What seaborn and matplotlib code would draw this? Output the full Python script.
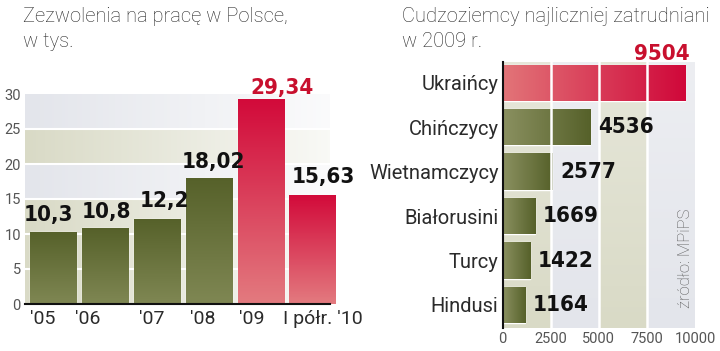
import numpy as np
import pandas as pd
import matplotlib
matplotlib.use("Agg")
import matplotlib.pyplot as plt
import seaborn as sns
from matplotlib.colors import LinearSegmentedColormap

# ---- data ----
years = ["'05", "'06", "'07", "'08", "'09", "I półr. '10"]
permits = [10.3, 10.8, 12.2, 18.02, 29.34, 15.63]
permit_labels = ["10,3", "10,8", "12,2", "18,02", "29,34", "15,63"]
permit_ticks = [0, 5, 10, 15, 20, 25, 30]

nations = ["Ukraińcy", "Chińczycy", "Wietnamczycy", "Białorusini", "Turcy", "Hindusi"]
workers = [9504, 4536, 2577, 1669, 1422, 1164]
worker_ticks = [0, 2500, 5000, 7500, 10000]

title_left = ["Zezwolenia na pracę w Polsce,", "w tys."]
title_right = ["Cudzoziemcy najliczniej zatrudniani", "w 2009 r."]
source = "źródło: MPiPS"

sns.set_theme(style="white")
plt.rcParams['font.family'] = ['Roboto', 'DejaVu Sans']
BOLD = dict(family=['DejaVu Sans'], fontweight="bold", fontstretch="condensed")

OLIVE = "#66702f"
RED = "#d4213f"
BEIGE = "#d9dac6"
GRAYBLUE = "#e3e5eb"
TXT = "#2b2b2b"

# layout nudges (pixels) for labels
lab_dx = [-5, 1, 7, 5, 21, 11]
lab_dy = [7, 6, 8, 6, 1, 8]
tick_shift = [-0.19, -0.33, -0.10, -0.12, -0.17, 0.19]

fig = plt.figure(figsize=(7.2, 3.51), dpi=100)
fig.patch.set_facecolor("white")

def grad_fill(ax, patch, c1, c2, vertical=True):
    x0, y0 = patch.get_x(), patch.get_y()
    w, h = patch.get_width(), patch.get_height()
    cmap = LinearSegmentedColormap.from_list("g", [c1, c2])
    if vertical:
        arr = np.linspace(0, 1, 100).reshape(-1, 1)
    else:
        arr = np.linspace(0, 1, 100).reshape(1, -1)
    im = ax.imshow(arr, cmap=cmap, aspect="auto", origin="lower",
                   extent=[x0, x0 + w, y0, y0 + h], zorder=patch.get_zorder() + 0.1,
                   interpolation="bilinear")
    im.set_clip_path(patch)

# ---------------- left panel ----------------
axL = fig.add_axes([25/720, 1 - 304/351, 305/720, 210/351])
dfL = pd.DataFrame({"year": years, "val": permits})
colsL = [OLIVE]*4 + [RED]*2
sns.barplot(data=dfL, x="year", y="val", hue="year", palette=colsL, legend=False,
            width=0.9, ax=axL, zorder=3, saturation=1)
barsL = list(axL.patches)
axL.set_xlim(-0.54, 5.33)
axL.set_ylim(0, 30)
band_cols = [BEIGE, BEIGE, BEIGE, GRAYBLUE, BEIGE, GRAYBLUE]
for i, c in enumerate(band_cols):
    axL.axhspan(i*5, i*5+5, color=c, zorder=0, lw=0)
fade = np.zeros((2, 200, 4))
fade[..., :3] = 1.0
fade[..., 3] = np.linspace(0.0, 0.85, 200)[None, :]
axL.imshow(fade, extent=[-0.54, 5.33, 0, 30], aspect="auto", zorder=0.5)
for yv in permit_ticks[1:-1]:
    axL.axhline(yv, color="white", lw=1.5, zorder=1)
for i, p in enumerate(barsL):
    if i < 4:
        grad_fill(axL, p, "#7f8753", "#56612a")
    else:
        grad_fill(axL, p, "#e37a7f", "#d20a3a")
for i, p in enumerate(barsL):
    cx = p.get_x() + p.get_width()/2
    axL.annotate(permit_labels[i], (cx, permits[i]), xytext=(lab_dx[i], lab_dy[i]),
                 textcoords="offset pixels", ha="center", va="bottom",
                 fontsize=16, **BOLD,
                 color=("#c8102e" if i == 4 else "#111111"), zorder=6,
                 annotation_clip=False)
axL.set_xticks([i + s for i, s in enumerate(tick_shift)])
axL.set_xticklabels(years, fontsize=14, color=TXT)
axL.set_yticks(permit_ticks)
axL.set_yticklabels([str(t) for t in permit_ticks], fontsize=10.5, color="#555555")
axL.tick_params(axis="both", length=0, pad=3)
axL.tick_params(axis="x", pad=4)
axL.set_xlabel("")
axL.set_ylabel("")
for s in ["top", "right", "left"]:
    axL.spines[s].set_visible(False)
axL.spines["bottom"].set_color("#111111")
axL.spines["bottom"].set_linewidth(1.5)
axL.spines["bottom"].set_zorder(7)

for k, line in enumerate(title_left):
    fig.text(23/720, 1 - (7 + k*25)/351, line, ha="left", va="top", fontsize=14.5,
             color="#262626", fontweight="light")

# ---------------- right panel ----------------
axR = fig.add_axes([502.7/720, 1 - 328/351, 192.3/720, 266/351])
dfR = pd.DataFrame({"nation": nations, "val": workers})
colsR = [RED] + [OLIVE]*5
sns.barplot(data=dfR, y="nation", x="val", hue="nation", palette=colsR, legend=False,
            orient="h", width=0.82, ax=axR, zorder=3, saturation=1)
barsR = list(axR.patches)
axR.set_xlim(0, 10000)
axR.set_ylim(5.52, -0.47)
vband = [BEIGE, GRAYBLUE, BEIGE, GRAYBLUE]
for i, c in enumerate(vband):
    axR.axvspan(i*2500, i*2500+2500, color=c, zorder=0, lw=0)
fadeR = np.zeros((200, 2, 4))
fadeR[..., :3] = 1.0
fadeR[..., 3] = np.linspace(0.35, 0.0, 200)[:, None]
axR.imshow(fadeR, extent=[0, 10000, 5.52, -0.47], aspect="auto", zorder=0.5)
for i, p in enumerate(barsR):
    if i == 0:
        grad_fill(axR, p, "#e27478", "#d0083a", vertical=False)
    else:
        grad_fill(axR, p, "#8a9060", "#56612a", vertical=False)
for xv in worker_ticks[1:-1]:
    axR.axvline(xv, color="white", lw=1.8, zorder=5)
for i, p in enumerate(barsR):
    cy = p.get_y() + p.get_height()/2
    if i == 0:
        axR.annotate(f"{workers[i]}", (workers[i], p.get_y()), xytext=(4, 1),
                     textcoords="offset pixels", ha="right", va="bottom",
                     fontsize=16, **BOLD, color="#c8102e",
                     zorder=6, annotation_clip=False)
    else:
        axR.annotate(f"{workers[i]}", (workers[i], cy), xytext=(8, 0),
                     textcoords="offset pixels", ha="left", va="center",
                     fontsize=16, **BOLD, color="#111111",
                     zorder=6)
axR.set_xticks(worker_ticks)
axR.set_xticklabels([str(t) for t in worker_ticks], fontsize=10.5, color="#555555")
axR.set_yticks(range(len(nations)))
axR.set_yticklabels(nations, fontsize=14.5, color=TXT)
axR.tick_params(axis="both", length=0, pad=3)
axR.set_xlabel("")
axR.set_ylabel("")
for s in ["top", "right", "bottom"]:
    axR.spines[s].set_visible(False)
axR.spines["left"].set_color("#111111")
axR.spines["left"].set_linewidth(1.5)
axR.spines["left"].set_zorder(7)
axR.text(9480, 3.94, source, rotation=90, ha="center", va="center",
         fontsize=12, color="#555555", zorder=6, fontweight="light")

for k, line in enumerate(title_right):
    fig.text(402/720, 1 - (7 + k*25)/351, line, ha="left", va="top", fontsize=14.5,
             color="#262626", fontweight="light")

fig.savefig("out.png", dpi=100, facecolor="white")
